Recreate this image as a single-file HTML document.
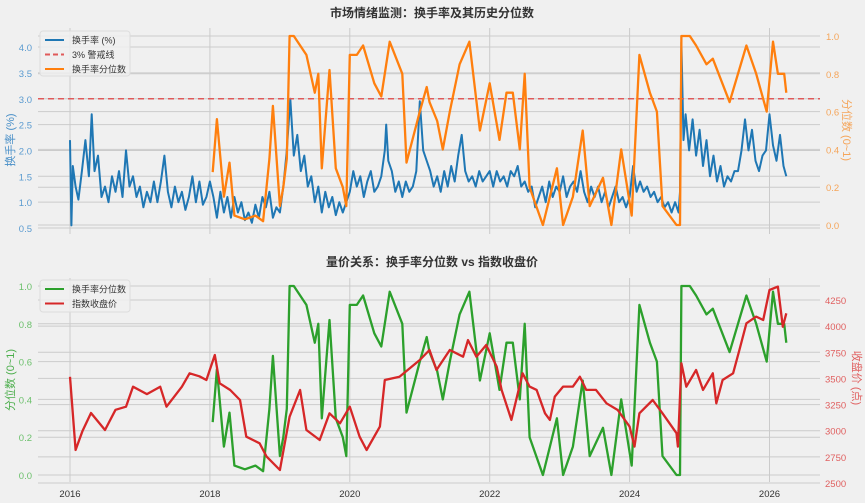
<!DOCTYPE html>
<html><head><meta charset="utf-8">
<style>
html,body{margin:0;padding:0;background:#f0f0f0;}
svg{display:block;font-family:"Liberation Sans","Noto Sans CJK SC",sans-serif;}
</style></head>
<body>
<svg id="c" width="865" height="503" viewBox="0 0 865 503">
<rect width="865" height="503" fill="#f0f0f0"/>
</svg>
<script>
const years = [2016, 2018, 2020, 2022, 2024, 2026];
const turnTicks = [0.5, 1.0, 1.5, 2.0, 2.5, 3.0, 3.5, 4.0];
const pctTicks = [0.0, 0.2, 0.4, 0.6, 0.8, 1.0];
const priceTicks = [2500, 2750, 3000, 3250, 3500, 3750, 4000, 4250];
const alertLevel = 3.0;
const turnDates = [2016.00,2016.02,2016.04,2016.08,2016.12,2016.17,2016.22,2016.27,2016.31,2016.35,2016.4,2016.45,2016.5,2016.55,2016.6,2016.65,2016.7,2016.75,2016.8,2016.85,2016.9,2016.95,
2017.0,2017.05,2017.1,2017.15,2017.2,2017.25,2017.3,2017.35,2017.4,2017.45,2017.5,2017.55,2017.6,2017.65,2017.7,2017.75,2017.8,2017.85,2017.9,2017.95,
2018.0,2018.05,2018.1,2018.15,2018.2,2018.25,2018.3,2018.35,2018.4,2018.45,2018.5,2018.55,2018.6,2018.65,2018.7,2018.75,2018.8,2018.85,2018.9,2018.95,
2019.0,2019.05,2019.1,2019.15,2019.2,2019.25,2019.3,2019.35,2019.4,2019.45,2019.5,2019.55,2019.6,2019.65,2019.7,2019.75,2019.8,2019.85,2019.9,2019.95,
2020.0,2020.05,2020.1,2020.15,2020.2,2020.25,2020.3,2020.35,2020.4,2020.45,2020.5,2020.52,2020.55,2020.6,2020.65,2020.7,2020.75,2020.8,2020.85,2020.9,2020.95,
2021.0,2021.05,2021.1,2021.15,2021.2,2021.25,2021.3,2021.35,2021.4,2021.45,2021.5,2021.55,2021.6,2021.65,2021.7,2021.75,2021.8,2021.85,2021.9,2021.95,
2022.0,2022.05,2022.1,2022.15,2022.2,2022.25,2022.3,2022.35,2022.4,2022.45,2022.5,2022.55,2022.6,2022.65,2022.7,2022.75,2022.8,2022.85,2022.9,2022.95,
2023.0,2023.05,2023.1,2023.15,2023.2,2023.25,2023.3,2023.35,2023.4,2023.45,2023.5,2023.55,2023.6,2023.65,2023.7,2023.75,2023.8,2023.85,2023.9,2023.95,
2024.0,2024.05,2024.1,2024.15,2024.2,2024.25,2024.3,2024.35,2024.4,2024.45,2024.5,2024.55,2024.6,2024.65,2024.7,2024.72,2024.74,2024.77,2024.8,2024.85,2024.9,2024.95,
2025.0,2025.05,2025.1,2025.15,2025.2,2025.25,2025.3,2025.35,2025.4,2025.45,2025.5,2025.55,2025.6,2025.65,2025.7,2025.75,2025.8,2025.85,2025.9,2025.95,
2026.0,2026.05,2026.1,2026.15,2026.2,2026.24];
const turnVals = [2.2,0.55,1.7,1.3,1.05,1.6,2.2,1.5,2.7,1.6,1.9,1.1,1.3,1.0,1.5,1.2,1.6,1.1,2.0,1.3,1.5,1.1,
1.3,0.9,1.2,1.0,1.4,1.0,1.4,1.9,1.2,0.9,1.3,1.0,1.2,0.85,1.1,1.5,1.0,1.4,0.95,1.1,
1.4,1.1,0.7,1.2,0.8,1.1,0.7,1.1,0.8,1.0,0.65,0.8,0.6,0.95,0.7,1.1,0.9,1.2,0.7,0.9,
0.8,1.3,2.0,3.0,1.9,2.3,1.6,1.9,1.3,1.5,1.0,1.3,0.8,1.2,0.9,1.1,0.75,1.0,0.8,1.0,
1.2,1.6,1.3,1.5,1.1,1.4,1.6,1.2,1.3,1.5,2.0,2.5,1.8,1.6,1.2,1.4,1.1,1.4,1.2,1.3,1.6,
2.95,2.0,1.8,1.6,1.3,1.5,1.2,1.6,1.3,1.7,1.4,1.9,2.3,1.6,1.4,1.5,1.3,1.6,1.4,1.5,
1.6,1.3,1.6,1.4,1.5,1.3,1.6,1.5,1.7,1.3,1.4,1.2,1.3,0.9,1.1,1.3,1.0,1.4,1.1,1.3,
1.2,1.5,1.1,1.3,1.4,1.2,1.6,1.2,1.0,1.3,1.1,1.3,1.0,1.2,0.9,1.1,1.3,1.0,1.1,0.9,
1.1,1.7,1.2,1.4,1.2,1.3,1.1,1.2,1.0,1.1,0.9,1.0,0.8,1.0,0.8,1.2,4.1,2.2,2.7,2.0,2.6,1.9,
2.4,1.7,2.2,1.5,1.9,1.4,1.7,1.3,1.5,1.4,1.6,1.6,2.0,2.6,2.0,2.4,1.8,1.6,1.9,2.0,
2.7,2.1,1.8,2.3,1.7,1.5];
const pctDates = [2018.04,2018.1,2018.2,2018.28,2018.35,2018.5,2018.65,2018.76,2018.85,2018.9,2019.0,2019.05,2019.1,2019.14,2019.2,2019.38,2019.5,2019.55,2019.6,2019.71,2019.8,2019.9,2019.95,
2020.0,2020.1,2020.19,2020.35,2020.45,2020.57,2020.75,2020.81,2021.0,2021.1,2021.14,2021.25,2021.33,2021.43,2021.57,2021.71,2021.86,
2022.0,2022.14,2022.24,2022.33,2022.43,2022.5,2022.57,2022.76,2022.96,2023.05,2023.19,2023.33,2023.43,2023.62,2023.74,2023.88,
2024.03,2024.14,2024.29,2024.39,2024.47,2024.67,2024.72,2024.74,2024.86,2024.95,2025.1,2025.19,2025.43,2025.67,2025.81,2025.96,2026.05,2026.12,2026.21,2026.24];
const pctVals = [0.28,0.56,0.15,0.33,0.05,0.03,0.05,0.02,0.35,0.63,0.1,0.2,0.35,1.0,1.0,0.9,0.7,0.8,0.3,0.82,0.3,0.2,0.1,
0.9,0.9,0.95,0.75,0.68,0.97,0.8,0.33,0.6,0.73,0.65,0.55,0.4,0.6,0.85,0.97,0.5,
0.75,0.45,0.7,0.7,0.4,0.8,0.2,0.0,0.3,0.0,0.15,0.5,0.1,0.25,0.0,0.4,
0.05,0.9,0.7,0.6,0.1,0.0,0.0,1.0,1.0,0.95,0.85,0.88,0.65,0.95,0.8,0.6,0.97,0.8,0.8,0.7];
const priceDates = [2016.0,2016.08,2016.18,2016.3,2016.5,2016.65,2016.8,2016.9,2017.1,2017.29,2017.38,2017.6,2017.71,2017.85,2017.95,2018.07,2018.14,2018.29,2018.43,2018.52,2018.71,2018.81,2019.0,
2019.14,2019.29,2019.38,2019.57,2019.71,2019.86,2020.0,2020.14,2020.24,2020.43,2020.5,2020.71,2021.0,2021.14,2021.24,2021.43,2021.62,2021.69,2021.81,2021.95,
2022.1,2022.17,2022.31,2022.47,2022.57,2022.67,2022.79,2022.86,2022.93,2023.05,2023.19,2023.29,2023.38,2023.52,2023.67,2023.83,2024.0,2024.07,2024.14,2024.33,2024.47,2024.67,2024.69,
2024.74,2024.81,2024.95,2025.05,2025.19,2025.24,2025.33,2025.48,2025.57,2025.67,2025.81,2025.91,2026.0,2026.12,2026.19,2026.24];
const priceVals = [3516,2816,3000,3169,3007,3200,3230,3421,3350,3421,3230,3421,3549,3520,3485,3724,3453,3389,3294,2943,2880,2752,2624,
3134,3389,3007,2911,3167,3071,3230,2943,2816,3039,3485,3516,3676,3772,3581,3772,3708,3867,3708,3820,
3613,3390,3103,3549,3422,3390,3167,3103,3326,3422,3422,3517,3390,3390,3262,3198,3039,2848,3167,3294,3167,2976,2848,
3645,3421,3581,3390,3549,3262,3485,3549,3772,4027,4091,4059,4346,4378,3995,4123];

const NS = 'http://www.w3.org/2000/svg';
const svg = document.getElementById('c');
function mk(tag, attrs, parent) {
  const e = document.createElementNS(NS, tag);
  for (const k in attrs) e.setAttribute(k, attrs[k]);
  (parent || svg).appendChild(e);
  return e;
}
const X = y => 70 + (y - 2016) * 69.95;
const yTurn = v => 228 - (v - 0.5) * 51.7;
const yPctTop = v => 225 - v * 189;
const yPctBot = v => 475 - v * 189;
const yPrice = v => 483 - (v - 2500) * 183 / 1750;
const L = 38, R = 820;
function gridH(y, name) {
  const l = mk('line', {x1: L, x2: R, y1: y, y2: y, stroke: '#cbcbcb', 'stroke-width': 1});
  
  
}
function text(x, y, s, color, anchor, size, name, extra) {
  const t = mk('text', Object.assign({x: x, y: y, fill: color, 'font-size': size || 10, 'text-anchor': anchor || 'start'}, extra || {}));
  t.textContent = s;
  
  
  return t;
}
function path(dates, vals, fx, fy, color, name, extra) {
  let d = '';
  for (let i = 0; i < dates.length; i++) d += (i ? 'L' : 'M') + fx(dates[i]).toFixed(1) + ',' + fy(vals[i]).toFixed(1);
  const p = mk('path', Object.assign({d: d, fill: 'none', stroke: color, 'stroke-width': 2.3, 'stroke-linejoin': 'round'}, extra || {}));
  
  
}

// ---- top panel
text(432, 17, '市场情绪监测：换手率及其历史分位数', '#333', 'middle', 12, 'top-title', {'font-weight': 'bold'});
turnTicks.forEach(v => { gridH(yTurn(v), 'top-left-grid'); text(32, yTurn(v) + 4, v.toFixed(1), '#5b9bd0', 'end', 9.5, 'top-left-tick'); });
pctTicks.forEach(v => { gridH(yPctTop(v), 'top-right-grid'); text(826, yPctTop(v) + 4, v.toFixed(1), '#f5a55a', 'start', 9.5, 'top-right-tick'); });
years.forEach(y => {
  const l = mk('line', {x1: X(y), x2: X(y), y1: 28, y2: 234, stroke: '#cbcbcb', 'stroke-width': 1});
  
  
});
text(14, 140, '换手率 (%)', '#4a90c8', 'middle', 11, 'top-left-axis-title', {transform: 'rotate(-90 14 140)'});
text(843, 130, '分位数 (0~1)', '#f5a55a', 'middle', 11, 'top-right-axis-title', {transform: 'rotate(90 843 130)'});
path(turnDates, turnVals, X, yTurn, '#1f77b4', 'turnover-line', {'stroke-width': 2});
const al = mk('line', {x1: L, x2: R, y1: yTurn(alertLevel), y2: yTurn(alertLevel), stroke: '#e05a5a', 'stroke-width': 1.5, 'stroke-dasharray': '6,4'});


path(pctDates, pctVals, X, yPctTop, '#ff7f0e', 'percentile-line-top');

function legend(x, y, w, h, items, name) {
  const g = mk('g', {});
  
  
  mk('rect', {x: x, y: y, width: w, height: h, rx: 3, fill: '#f0f0f0', 'fill-opacity': 0.85, stroke: '#dddddd'}, g);
  items.forEach((it, i) => {
    const yy = y + 9 + i * 14.5;
    const l = mk('line', {x1: x + 5, x2: x + 24, y1: yy, y2: yy, stroke: it[1], 'stroke-width': 2, 'stroke-dasharray': it[2] ? '5,3' : 'none'}, g);
    
    
    const t = mk('text', {x: x + 32, y: yy + 3.5, 'font-size': 9, fill: '#333'}, g);
    t.textContent = it[0];
    
    
  });
}
legend(40, 31, 90, 45, [['换手率 (%)', '#1f77b4'], ['3% 警戒线', '#e05a5a', true], ['换手率分位数', '#ff7f0e']], 'top-legend');

// ---- bottom panel
text(432, 266, '量价关系：换手率分位数 vs 指数收盘价', '#333', 'middle', 12, 'bottom-title', {'font-weight': 'bold'});
pctTicks.forEach(v => { gridH(yPctBot(v), 'bottom-left-grid'); text(32, yPctBot(v) + 4, v.toFixed(1), '#6cc06c', 'end', 9.5, 'bottom-left-tick'); });
priceTicks.forEach(v => { gridH(yPrice(v), 'bottom-right-grid'); text(825, yPrice(v) + 4, String(v), '#e06060', 'start', 9.5, 'bottom-right-tick'); });
years.forEach(y => {
  const l = mk('line', {x1: X(y), x2: X(y), y1: 278, y2: 482, stroke: '#cbcbcb', 'stroke-width': 1});
  
  
  text(X(y), 497, String(y), '#333', 'middle', 9.5, 'x-tick-label');
});
text(14, 380, '分位数 (0~1)', '#4cae4c', 'middle', 11, 'bottom-left-axis-title', {transform: 'rotate(-90 14 380)'});
text(853, 378, '收盘价 (点)', '#e06060', 'middle', 11, 'bottom-right-axis-title', {transform: 'rotate(90 853 378)'});
path(pctDates, pctVals, X, yPctBot, '#2ca02c', 'percentile-line-bottom');
path(priceDates, priceVals, X, yPrice, '#d62728', 'price-line');
legend(40, 280, 90, 32, [['换手率分位数', '#2ca02c'], ['指数收盘价', '#d62728']], 'bottom-legend');
</script>
</body></html>
